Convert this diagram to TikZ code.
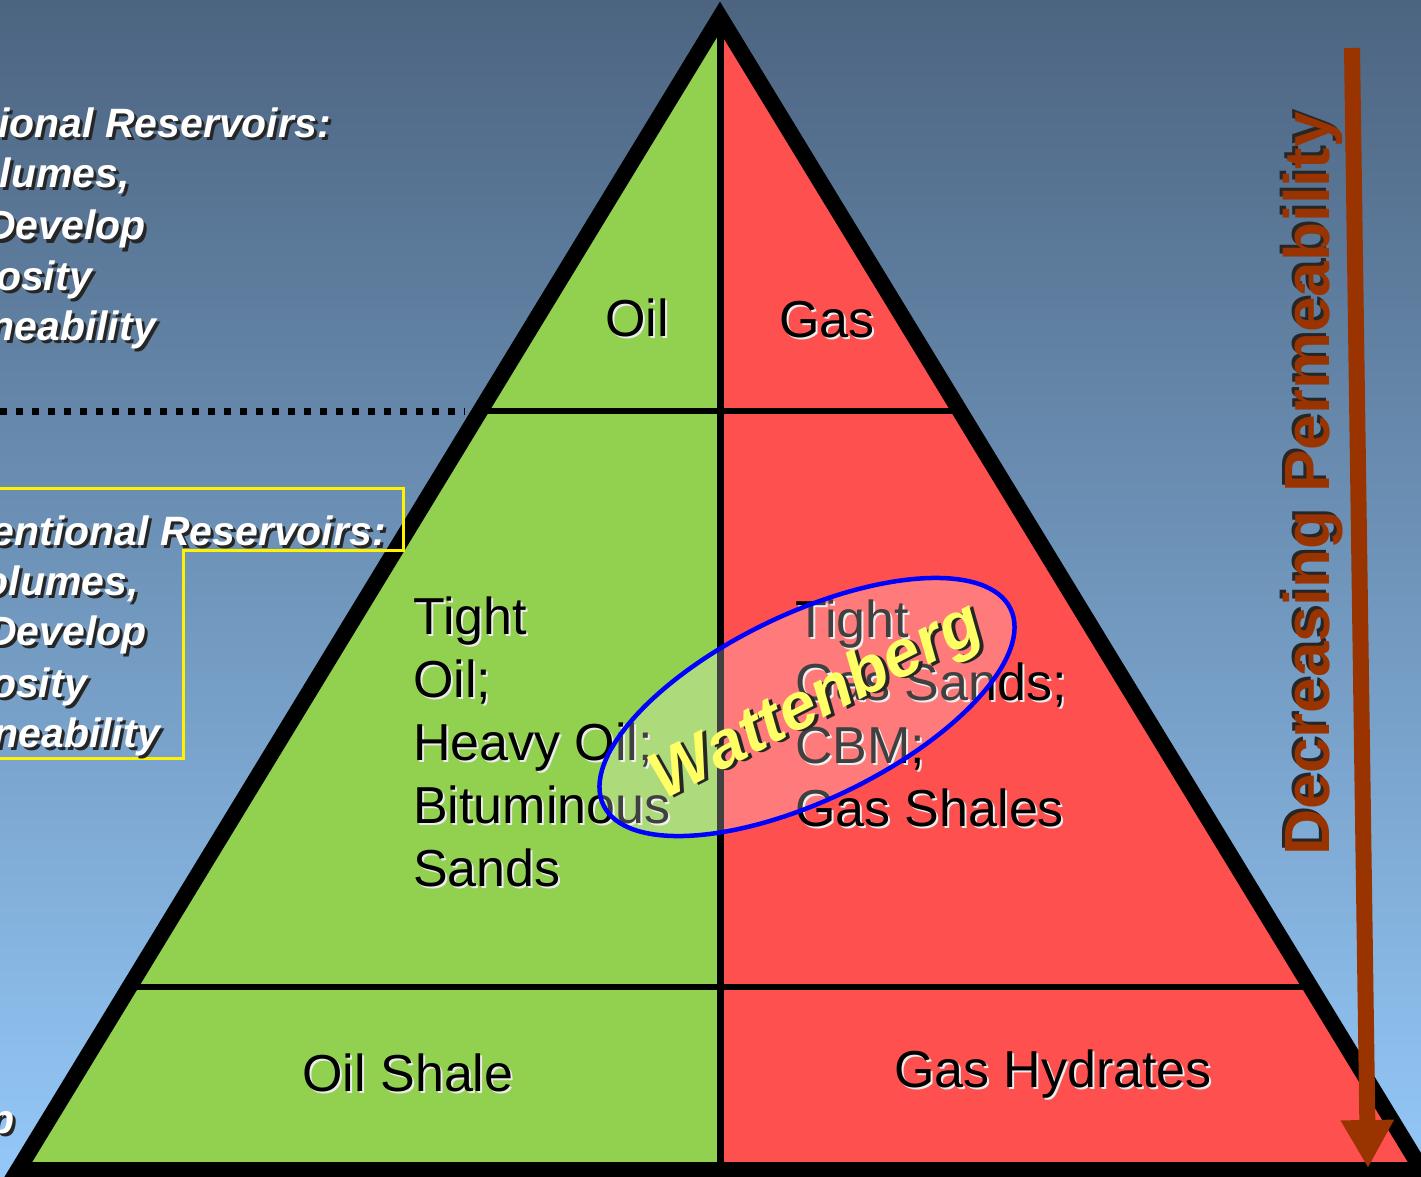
\documentclass[tikz,border=0pt]{standalone}
\usepackage{fontspec}
\setmainfont{Liberation Sans}
\usepackage{xcolor}
\usetikzlibrary{shapes.geometric, arrows.meta, positioning}

\definecolor{skytop}{RGB}{76,100,128}
\definecolor{skybot}{RGB}{148,200,248}
\definecolor{oilgreen}{RGB}{146,208,80}
\definecolor{gasred}{RGB}{255,80,80}
\definecolor{permbrown}{RGB}{153,51,0}
\definecolor{wattyellow}{RGB}{255,255,102}

% text with a dark drop shadow / a light glow behind it
\newcommand{\dropsh}[1]{\makebox[0pt][l]{\hspace{3pt}\raisebox{-3pt}{\textcolor{black!85}{#1}}}#1}
\newcommand{\glowsh}[1]{\makebox[0pt][l]{\hspace{2pt}\raisebox{-2pt}{\textcolor{white!85!gray}{#1}}}#1}

\begin{document}
\begin{tikzpicture}[
    x=1pt, y=-1pt,
    % Styles
    cell/.style={inner sep=0pt, text=black, font=\fontsize{52}{63}\selectfont},
    sidetext/.style={inner sep=0pt, text=white, anchor=base east, font=\fontsize{41}{51}\selectfont\bfseries\itshape},
    border/.style={line width=16pt, line join=miter, draw=black},
    divider/.style={line width=6pt, draw=black},
    cutoff/.style={line width=7pt, draw=black, dash pattern=on 7pt off 9pt},
    unconvbox/.style={line width=3pt, draw=yellow},
    wattring/.style={ellipse, draw=blue, line width=4.5pt, fill=white, fill opacity=0.25, inner sep=0pt, minimum width=452pt, minimum height=186pt, rotate=25.75},
    watttext/.style={inner sep=0pt, text=wattyellow, rotate=27, font=\fontsize{66}{72}\selectfont\bfseries\itshape},
    permarrow/.style={-{Triangle[length=48pt,width=50pt]}, line width=16pt, draw=permbrown},
    permtext/.style={inner sep=0pt, text=permbrown, rotate=90, font=\fontsize{64}{70}\selectfont\bfseries}
]

\useasboundingbox (0,0) rectangle (1421,1177);
\clip (0,0) rectangle (1421,1177);
\shade[top color=skytop, bottom color=skybot] (0,0) rectangle (1421,1177);

% ------------------- RESOURCE TRIANGLE -------------------
\fill[oilgreen] (720,17) -- (18,1170) -- (720,1170) -- cycle;
\fill[gasred] (720,17) -- (1422,1170) -- (720,1170) -- cycle;

\draw[divider] (480,411) -- (960,411);
\draw[divider] (129,987) -- (1311,987);
\draw[line width=7pt] (720,17) -- (720,1170);
\draw[border] (720,17) -- (18,1170) -- (1422,1170) -- cycle;

% ------------------- LEFT TEXT (cut by the page edge) -------------------
\coordinate (cutL) at (0,411);
\coordinate (cutR) at (465,411);
\draw[cutoff] (cutL) -- (cutR);

\draw[unconvbox] (0,488) -- (403,488) -- (403,550) -- (183,550) -- (183,758) -- (0,758);

\foreach \txt/\xe/\yb [count=\i] in {{ional Reservoirs:}/331/138, {lumes,}/130/188, Develop/146/240, osity/92/290, neability/156/340}
    \node[sidetext] (conv\i) at (\xe,\yb) {\dropsh{\txt}};

\foreach \txt/\xe/\yb [count=\i] in {{entional Reservoirs:}/386/545, {olumes,}/139/595, Develop/147/645, osity/87/697, neability/160/747}
    \node[sidetext] (unconv\i) at (\xe,\yb) {\dropsh{\txt}};

\node[sidetext] (edgep) at (15,1133) {\dropsh{p}};

% ------------------- CELL LABELS -------------------
\node[cell, anchor=base] (oil) at (637,336) {\glowsh{Oil}};
\node[cell, anchor=base] (gas) at (827,337) {\glowsh{Gas}};

\node[cell, anchor=north west, align=left] (tightoil) at (413,597)
    {\glowsh{Tight}\\\glowsh{Oil;}\\\glowsh{Heavy Oil;}\\\glowsh{Bituminous}\\\glowsh{Sands}};
\node[cell, anchor=north west, align=left] (tightgas) at (795,600)
    {\glowsh{Tight}\\\glowsh{Gas Sands;}\\\glowsh{CBM;}\\\glowsh{Gas Shales}};

\node[cell, anchor=base] (oilshale) at (408,1091) {\glowsh{Oil Shale}};
\node[cell, anchor=base] (hydrates) at (1053,1087) {\glowsh{Gas Hydrates}};

% ------------------- WATTENBERG -------------------
\node[wattring] (watt) at (807,707) {};
\node[watttext] (wattname) at (818,704) {\dropsh{Wattenberg}};

% ------------------- PERMEABILITY ARROW -------------------
\coordinate (permtop) at (1352,48);
\coordinate (permtip) at (1368,1168);
\draw[permarrow] (permtop) -- (permtip);
\node[permtext] (permname) at (1312,484)
    {\makebox[0pt][l]{\hspace{3pt}\raisebox{3pt}{\textcolor{black!85}{Decreasing Permeability}}}Decreasing Permeability};

\end{tikzpicture}
\end{document}
